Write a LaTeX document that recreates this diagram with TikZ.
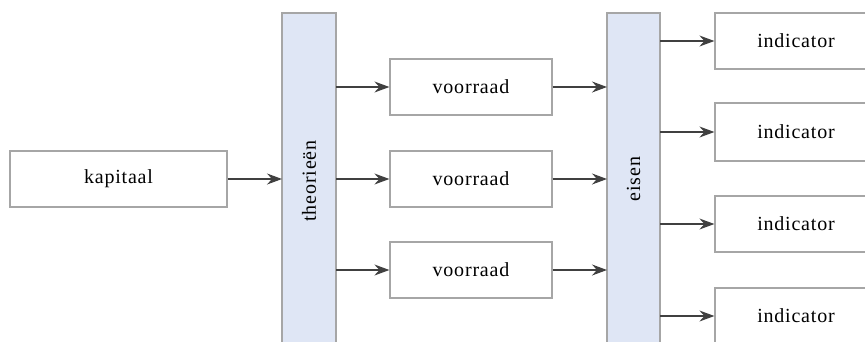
\documentclass[tikz,border=0pt]{standalone}
\usepackage{fontspec}
\setmainfont{Liberation Serif}
\usetikzlibrary{arrows.meta}
\definecolor{barfill}{HTML}{DFE6F5}
\definecolor{boxline}{HTML}{A6A6A6}
\definecolor{arr}{HTML}{404040}
\tikzset{
  txt/.style={font=\fontsize{20}{21}\selectfont\addfontfeature{LetterSpace=4}},
  box/.style={draw=boxline, line width=1.2pt, fill=white, inner sep=0pt, txt},
  bar/.style={draw=boxline, line width=1.2pt, fill=barfill},
  vlbl/.style={txt, rotate=90, inner sep=0pt},
  hlbl/.style={txt, inner sep=0pt},
  conn/.style={draw=arr, line width=1.2pt, -{Stealth[length=15pt,width=11pt,inset=5pt]}}
}
\begin{document}
\begin{tikzpicture}[x=1pt,y=-1pt]
\useasboundingbox (0,0) rectangle (865,341);
\clip (0,0) rectangle (865,341);
% kapitaal
\node[box, minimum width=217pt, minimum height=56pt] (kap) at (118.5,179) {kapitaal};
% bars
\draw[bar] (282,13) rectangle (336,360);
\node[vlbl] (thl) at (309,181) {theorieën};
\draw[bar] (607,13) rectangle (660,360);
\node[vlbl] (eil) at (633.5,179) {eisen};
% voorraad
\node[box, minimum width=162pt, minimum height=56pt] (v1) at (471,87) {voorraad};
\node[box, minimum width=162pt, minimum height=56pt] (v2) at (471,179) {voorraad};
\node[box, minimum width=162pt, minimum height=56pt] (v3) at (471,270) {voorraad};
% indicator boxes (running past the right edge)
\node[box, minimum width=180pt, minimum height=56pt] (i1) at (805,41) {};
\node[box, minimum width=180pt, minimum height=58pt] (i2) at (805,132) {};
\node[box, minimum width=180pt, minimum height=56pt] (i3) at (805,224) {};
\node[box, minimum width=180pt, minimum height=56pt] (i4) at (805,316) {};
\node[hlbl] (t1) at (796,41) {indicator};
\node[hlbl] (t2) at (796,132) {indicator};
\node[hlbl] (t3) at (796,224) {indicator};
\node[hlbl] (t4) at (796,316) {indicator};
% anchors on bars
\coordinate (thin) at (282,179);
\coordinate (tho1) at (336,87);
\coordinate (tho2) at (336,179);
\coordinate (tho3) at (336,270);
\coordinate (ein1) at (607,87);
\coordinate (ein2) at (607,179);
\coordinate (ein3) at (607,270);
\coordinate (eo1) at (660,41);
\coordinate (eo2) at (660,132);
\coordinate (eo3) at (660,224);
\coordinate (eo4) at (660,316);
% connectors
\draw[conn] (kap.east) -- (thin);
\draw[conn] (tho1) -- (v1.west);
\draw[conn] (tho2) -- (v2.west);
\draw[conn] (tho3) -- (v3.west);
\draw[conn] (v1.east) -- (ein1);
\draw[conn] (v2.east) -- (ein2);
\draw[conn] (v3.east) -- (ein3);
\draw[conn] (eo1) -- (i1.west);
\draw[conn] (eo2) -- (i2.west);
\draw[conn] (eo3) -- (i3.west);
\draw[conn] (eo4) -- (i4.west);
\end{tikzpicture}
\end{document}
